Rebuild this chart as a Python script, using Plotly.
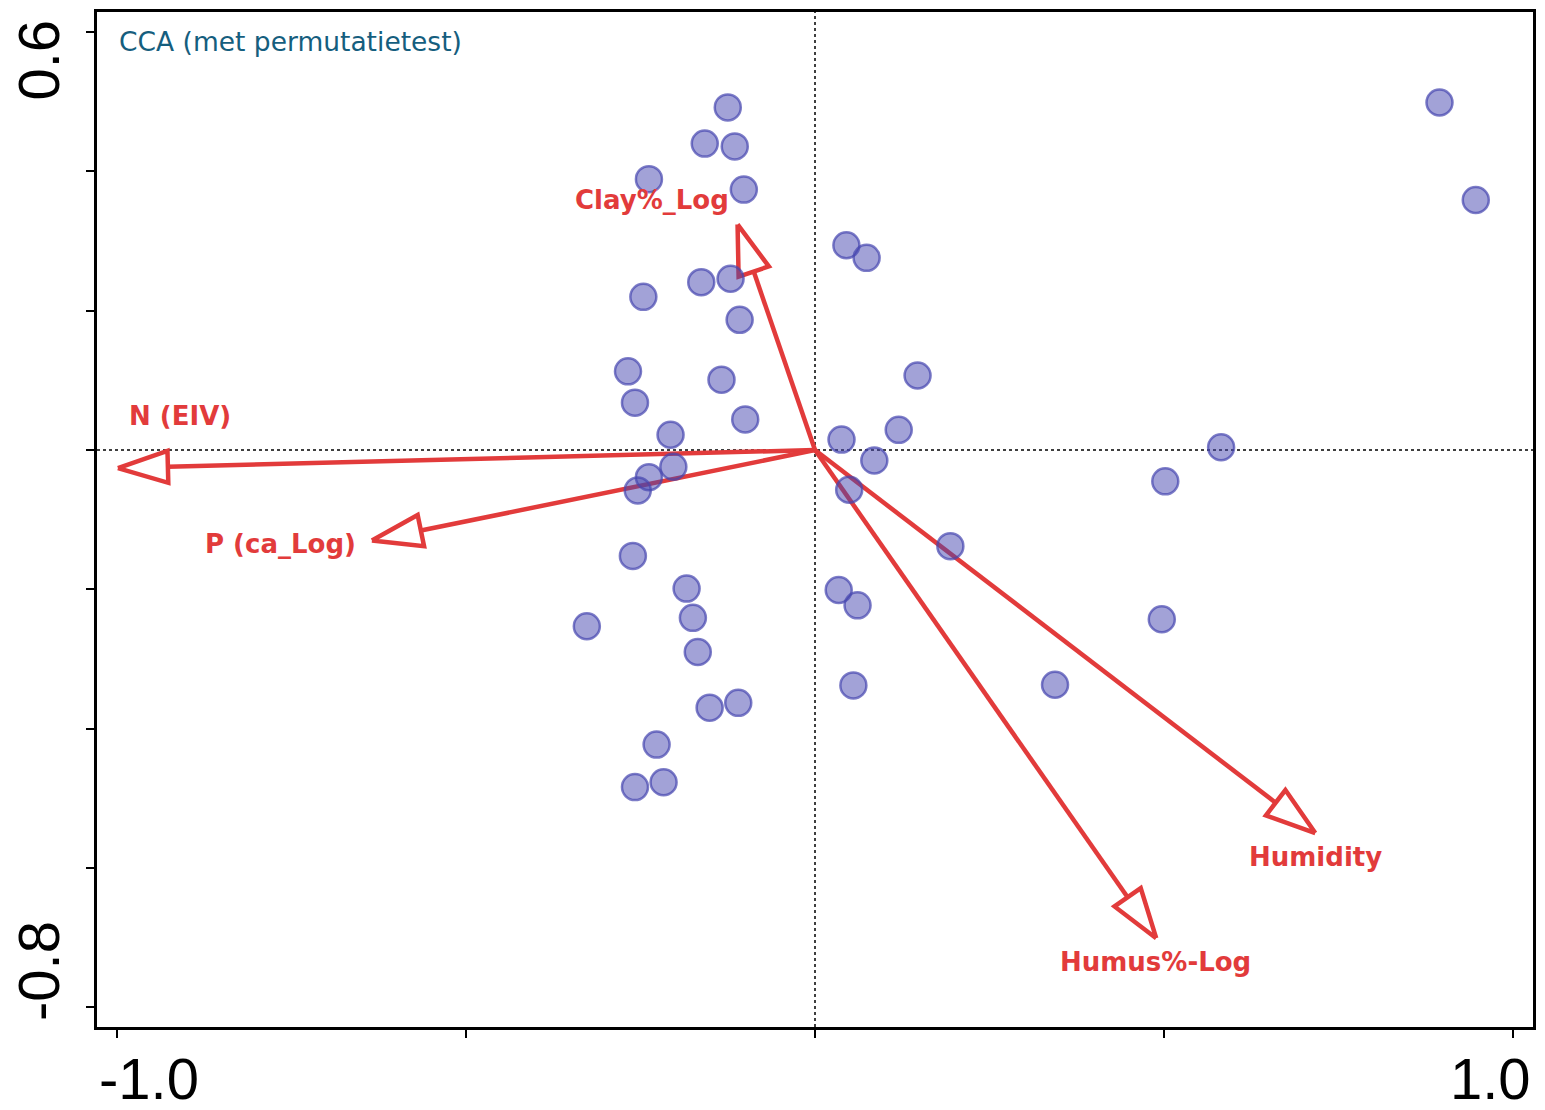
import math
import plotly.graph_objects as go

# ---- data ----
site_x = [-0.125, -0.158, -0.115, -0.238, -0.102, 0.045, 0.074, -0.163, -0.121, -0.246,
          -0.108, -0.268, -0.134, 0.147, -0.258, -0.100, -0.207, 0.120, 0.038, 0.582,
          0.085, -0.203, -0.238, -0.254, 0.049, 0.502, 0.194, -0.261, -0.184, 0.034,
          0.061, -0.175, -0.327, 0.497, -0.168, 0.055, 0.344, -0.110, -0.151, -0.227,
          -0.217, -0.258, 0.895, 0.947]
site_y = [0.492, 0.440, 0.436, 0.389, 0.374, 0.294, 0.276, 0.241, 0.246, 0.220,
          0.187, 0.113, 0.101, 0.107, 0.068, 0.044, 0.022, 0.029, 0.015, 0.004,
          -0.015, -0.024, -0.039, -0.058, -0.057, -0.045, -0.138, -0.152, -0.199, -0.201,
          -0.223, -0.241, -0.253, -0.243, -0.290, -0.338, -0.337, -0.363, -0.370, -0.423,
          -0.477, -0.484, 0.499, 0.359]

env_names = ["N (EIV)", "P (ca_Log)", "Clay%_Log", "Humidity", "Humus%-Log"]
env_x = [-0.999, -0.635, -0.111, 0.717, 0.489]
env_y = [-0.026, -0.130, 0.324, -0.550, -0.701]

x_tickvals = [-1.0, -0.5, 0.0, 0.5, 1.0]
y_tickvals = [-0.8, -0.6, -0.4, -0.2, 0.0, 0.2, 0.4, 0.6]
x_end_labels = ["-1.0", "1.0"]
y_end_labels = ["-0.8", "0.6"]
title_text = "CCA (met permutatietest)"

# ---- layout geometry ----
W, H = 1545, 1110
ML, MR, MT, MB = 97, 11, 9, 83
XR = [-1.029, 1.029]
YR = [-0.8285, 0.629]
px_x = (W - ML - MR) / (XR[1] - XR[0])
px_y = (H - MT - MB) / (YR[1] - YR[0])

RED = "#E23B3B"
fig = go.Figure()

# label offsets in px (xshift, yshift)
label_shift = [(62, 52), (-91, -3), (-86, 24), (0, -24), (-1, -24)]

HEAD_LEN = 50
HEAD_HW = 16
for name, ex, ey, (sx, sy) in zip(env_names, env_x, env_y, label_shift):
    dx, dy = ex * px_x, ey * px_y
    L = math.hypot(dx, dy)
    ux, uy = dx / L, dy / L
    bx, by = dx - ux * HEAD_LEN, dy - uy * HEAD_LEN
    px_, py_ = -uy, ux
    b1 = (bx + px_ * HEAD_HW, by + py_ * HEAD_HW)
    b2 = (bx - px_ * HEAD_HW, by - py_ * HEAD_HW)
    fig.add_trace(go.Scatter(x=[0, bx / px_x], y=[0, by / px_y], mode="lines",
                             line=dict(color=RED, width=4.5), hoverinfo="skip", showlegend=False))
    fig.add_trace(go.Scatter(x=[ex, b1[0] / px_x, b2[0] / px_x, ex],
                             y=[ey, b1[1] / px_y, b2[1] / px_y, ey],
                             mode="lines", fill="toself", fillcolor="white",
                             line=dict(color=RED, width=4.5), hoverinfo="skip", showlegend=False))
    fig.add_annotation(x=ex, y=ey, text=name, showarrow=False, xshift=sx, yshift=sy,
                       font=dict(family="DejaVu Sans", size=26, color=RED, weight="bold"))

# site points
fig.add_trace(go.Scatter(x=site_x, y=site_y, mode="markers",
                         marker=dict(size=26, color="rgba(70,70,175,0.5)",
                                     line=dict(color="rgba(70,70,175,0.7)", width=2.5)),
                         showlegend=False))

# dotted zero lines
fig.add_shape(type="line", xref="x", yref="paper", x0=0, x1=0, y0=0, y1=1,
              line=dict(color="black", width=1.5, dash="dot"), layer="below")
fig.add_shape(type="line", xref="paper", yref="y", x0=0, x1=1, y0=0, y1=0,
              line=dict(color="black", width=1.5, dash="dot"), layer="below")

# title
fig.add_annotation(xref="x", yref="paper", x=x_tickvals[0], y=1, xanchor="left", yanchor="top",
                   yshift=-12, text=title_text, showarrow=False,
                   font=dict(family="DejaVu Sans", size=26.5, color="#155E7E"))

# end tick labels
TF = dict(family="Liberation Sans, Arial", size=58, color="black")
fig.add_annotation(xref="paper", yref="paper", x=0, y=0, xanchor="left", yanchor="middle",
                   yshift=-51, text=x_end_labels[0], showarrow=False, font=TF)
fig.add_annotation(xref="paper", yref="paper", x=1, y=0, xanchor="right", yanchor="middle",
                   yshift=-51, text=x_end_labels[1], showarrow=False, font=TF)
fig.add_annotation(xref="paper", yref="paper", x=0, y=1, xanchor="center", yanchor="top",
                   xshift=-59, yshift=-6, textangle=-90, text=y_end_labels[1], showarrow=False, font=TF)
fig.add_annotation(xref="paper", yref="paper", x=0, y=0, xanchor="center", yanchor="bottom",
                   xshift=-59, yshift=4, textangle=-90, text=y_end_labels[0], showarrow=False, font=TF)

fig.update_layout(
    width=W, height=H,
    margin=dict(l=ML, r=MR, t=MT, b=MB),
    paper_bgcolor="white", plot_bgcolor="white",
    showlegend=False,
    xaxis=dict(range=XR, tickvals=x_tickvals, showticklabels=False, ticks="outside",
               ticklen=8, tickwidth=2, tickcolor="black", showgrid=False, zeroline=False,
               showline=True, linecolor="black", linewidth=3, mirror=True),
    yaxis=dict(range=YR, tickvals=y_tickvals, showticklabels=False, ticks="outside",
               ticklen=8, tickwidth=2, tickcolor="black", showgrid=False, zeroline=False,
               showline=True, linecolor="black", linewidth=3, mirror=True),
)

fig.write_html("out.html", config={"displayModeBar": False},
               post_script="document.body.style.margin='0';document.body.style.overflow='hidden';")
